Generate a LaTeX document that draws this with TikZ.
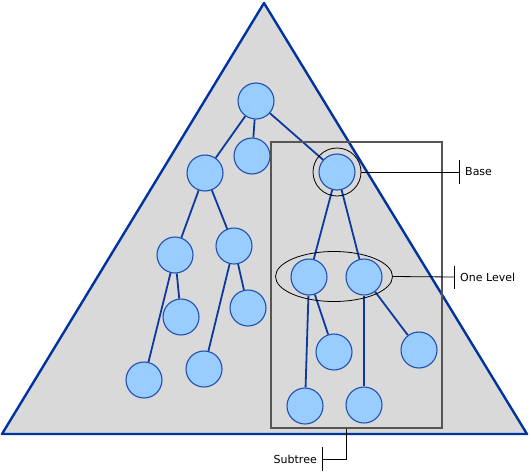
\documentclass[tikz,border=0pt]{standalone}
\usepackage{fontspec}
\setmainfont{DejaVu Sans}
\usetikzlibrary{shapes.geometric}
\definecolor{triblue}{HTML}{0033A0}
\definecolor{edgeblue}{HTML}{0B3A9E}
\definecolor{nodefill}{HTML}{99CCFF}
\definecolor{nodeline}{HTML}{1F4FB0}
\definecolor{trifill}{HTML}{D9D9D9}
\definecolor{boxline}{HTML}{555555}
\begin{document}
\begin{tikzpicture}[x=1pt,y=-1pt,
  tn/.style={circle,draw=nodeline,fill=nodefill,line width=1.1pt,minimum size=36pt,inner sep=0pt},
  ed/.style={draw=edgeblue,line width=1.8pt},
  lab/.style={font=\fontsize{11}{13}\selectfont,inner sep=0pt},
  tickline/.style={draw=black,line width=0.8pt}]
\useasboundingbox (0,0) rectangle (529,471);
\coordinate (apex) at (264,3);
\coordinate (bl) at (2,434);
\coordinate (br) at (527,434);
\draw[fill=trifill,draw=triblue,line width=2.4pt,line join=round] (apex) -- (br) -- (bl) -- cycle;
% nodes
\node[tn] (r) at (256,101) {};
\node[tn] (a) at (205,173) {};
\node[tn] (b) at (252,156) {};
\node[tn] (c) at (337,172) {};
\node[tn] (a1) at (175,255) {};
\node[tn] (a2) at (234,246) {};
\node[tn] (a11) at (181,317) {};
\node[tn] (a12) at (144,380) {};
\node[tn] (a21) at (248,308) {};
\node[tn] (a22) at (204,369) {};
\node[tn] (c1) at (309,277) {};
\node[tn] (c2) at (364,277) {};
\node[tn] (c11) at (334,352) {};
\node[tn] (c12) at (305,406) {};
\node[tn] (c21) at (419,350) {};
\node[tn] (c22) at (364,405) {};
% edges
\foreach \u/\v in {r/a,r/b,r/c,a/a1,a/a2,a1/a11,a1/a12,a2/a21,a2/a22,c/c1,c/c2,c1/c11,c1/c12,c2/c21,c2/c22}
  \draw[ed] (\u) -- (\v);
% subtree box
\node[draw=boxline,line width=1.1pt,minimum width=171pt,minimum height=286pt,inner sep=0pt] (box) at (356.5,285) {};
% base ring
\node[circle,draw=black,line width=0.8pt,minimum size=48pt,inner sep=0pt] (ring) at (c) {};
% one level ellipse
\node[ellipse,draw=black,line width=0.8pt,minimum width=117pt,minimum height=50pt,inner sep=0pt] (lvl) at (334,276.5) {};
% labels
\coordinate (bt) at (459,172);
\draw[tickline] (ring.east) -- (bt);
\draw[tickline] (459,160) -- (459,184);
\node[lab,anchor=west] (basel) at (465,172) {Base};
\coordinate (lt) at (454,277);
\draw[tickline] (lvl.east) -- (lt);
\draw[tickline] (454,266) -- (454,289);
\node[lab,anchor=west] (lvll) at (460,277) {One Level};
\coordinate (s1) at (346,459);
\coordinate (s2) at (322,459);
\draw[tickline] (box.south -| s1) -- (s1) -- (s2);
\draw[tickline] (322,447) -- (322,471);
\node[lab,anchor=east] (subl) at (317,459) {Subtree};
\end{tikzpicture}
\end{document}
